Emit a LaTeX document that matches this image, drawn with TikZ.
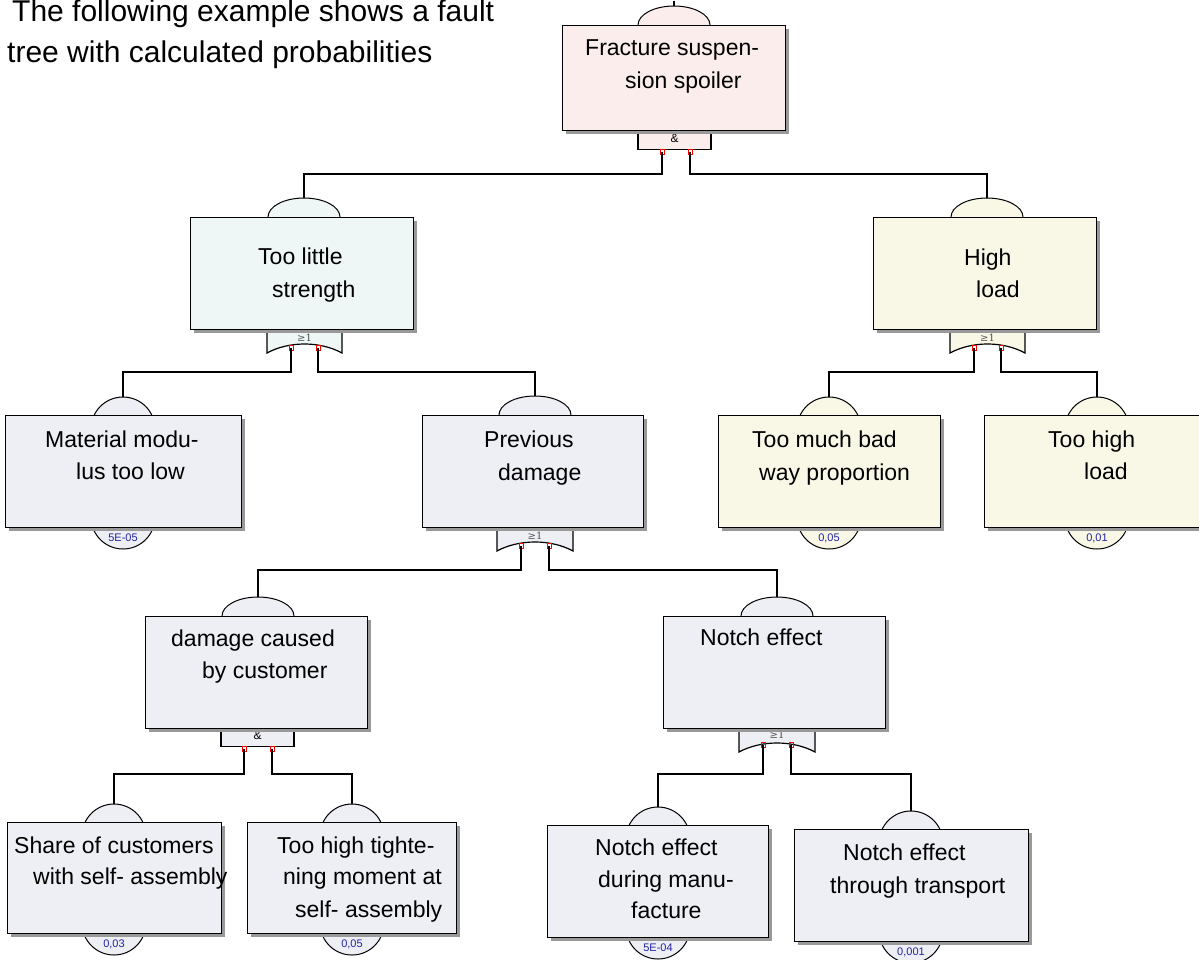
\documentclass[tikz,border=0pt]{standalone}
\usepackage{fontspec}
\setmainfont{Liberation Sans}
\newfontfamily\gatefont{DejaVu Serif}
\usetikzlibrary{shapes.geometric,shadows}
\definecolor{cpink}{HTML}{FCEDED}
\definecolor{ccyan}{HTML}{EEF6F6}
\definecolor{cyell}{HTML}{F9F8E7}
\definecolor{cgrey}{HTML}{EEEFF5}
\definecolor{probblue}{HTML}{2222A0}
\definecolor{gatelab}{HTML}{505050}
\newcommand\orgt[4]{\filldraw[gatesty, fill=#4] (#1,#3) -- (#1,#3+26) .. controls (#1+22,#3+14) and (#2-22,#3+14) .. (#2,#3+26) -- (#2,#3);}
\tikzset{
  box/.style={draw, line width=1.2pt, rectangle, inner sep=0pt, anchor=north west,
    general shadow={fill=black!40, shadow xshift=3pt, shadow yshift=-3pt}},
  dome/.style={draw, line width=1pt, ellipse, minimum width=72pt, minimum height=38pt, inner sep=0pt},
  ldome/.style={draw, line width=1pt, circle, minimum size=64pt, inner sep=0pt},
  txt/.style={font=\fontsize{23}{28}\selectfont, anchor=base west, inner sep=0pt},
  ttl/.style={font=\fontsize{30}{36}\selectfont, anchor=base west, inner sep=0pt},
  prob/.style={font=\fontsize{11}{13}\selectfont, text=probblue, inner sep=0pt},
  pinsq/.style={draw=red, line width=0.7pt, minimum width=4pt, minimum height=5pt, inner sep=0pt},
  wire/.style={line width=1.2pt},
  gatesty/.style={draw, line width=1.2pt},
  andg/.style={gatesty, rectangle, minimum width=73pt, minimum height=22pt, inner sep=0pt, anchor=south, font=\fontsize{12}{14}\selectfont},
  orlab/.style={font=\gatefont\fontsize{10}{12}\selectfont, text=gatelab, inner sep=0pt}
}
\begin{document}
\begin{tikzpicture}[x=1pt,y=-1pt]
\useasboundingbox (0,0) rectangle (1199,959);
\clip (0,0) rectangle (1199,959);

% title
\node[ttl] (ttl1) at (12,21) {The following example shows a fault};
\node[ttl] (ttl2) at (7,62) {tree with calculated probabilities};

% domes (intermediate events)
\node[dome, fill=cpink] (Fd) at (674,25) {};
\node[dome, fill=ccyan] (Sd) at (304,217) {};
\node[dome, fill=cyell] (Hd) at (987,217) {};
\node[dome, fill=cgrey] (Pd) at (535,415) {};
\node[dome, fill=cgrey] (Dd) at (258,616) {};
\node[dome, fill=cgrey] (Nd) at (777,616) {};
% basic event circles (top and bottom)
\node[ldome, fill=cgrey] (Md) at (123,429) {};
\node[ldome, fill=cgrey] (Mb) at (123,517) {};
\node[ldome, fill=cyell] (Wd) at (829,429) {};
\node[ldome, fill=cyell] (Wb) at (829,517) {};
\node[ldome, fill=cyell] (Td) at (1097,429) {};
\node[ldome, fill=cyell] (Tb) at (1097,517) {};
\node[ldome, fill=cgrey] (C1d) at (114,836) {};
\node[ldome, fill=cgrey] (C1b) at (114,923) {};
\node[ldome, fill=cgrey] (C2d) at (352,836) {};
\node[ldome, fill=cgrey] (C2b) at (352,923) {};
\node[ldome, fill=cgrey] (N1d) at (658,839) {};
\node[ldome, fill=cgrey] (N1b) at (658,927) {};
\node[ldome, fill=cgrey] (N2d) at (911,843) {};
\node[ldome, fill=cgrey] (N2b) at (911,931) {};

% gates
\node[andg, fill=cpink] (Fg) at (674.5,150) {\&};
\orgt{267}{342}{327}{ccyan}
\orgt{950}{1025}{327}{cyell}
\orgt{497}{573}{525}{cgrey}
\node[andg, fill=cgrey] (Dg) at (257.5,747) {\&};
\orgt{739}{815}{726}{cgrey}
\node[orlab] (Sgl) at (304.5,338) {≥1};
\node[orlab] (Hgl) at (987.5,338) {≥1};
\node[orlab] (Pgl) at (535,536) {≥1};
\node[orlab] (Ngl) at (777,735) {≥1};

% pins
\node[pinsq] (Fp1) at (662,152) {};
\node[pinsq] (Fp2) at (690,152) {};
\node[pinsq] (Sp1) at (291,348) {};
\node[pinsq] (Sp2) at (318,348) {};
\node[pinsq] (Hp1) at (974,348) {};
\node[pinsq] (Hp2) at (1001,348) {};
\node[pinsq] (Pp1) at (521,546) {};
\node[pinsq] (Pp2) at (549,546) {};
\node[pinsq] (Dp1) at (244,749) {};
\node[pinsq] (Dp2) at (272,749) {};
\node[pinsq] (Np1) at (763,745) {};
\node[pinsq] (Np2) at (791,745) {};

% bus levels
\coordinate (Fbus) at (0,174);
\coordinate (Sbus) at (0,372);
\coordinate (Pbus) at (0,570);
\coordinate (Dbus) at (0,774);
\coordinate (Fin) at (674,1);

% connectors
\draw[wire] (Fd.north) -- (Fin);
\draw[wire] (Fp1.center) -- (Fp1.center |- Fbus) -| (Sd.north);
\draw[wire] (Fp2.center) -- (Fp2.center |- Fbus) -| (Hd.north);
\draw[wire] (Sp1.center) -- (Sp1.center |- Sbus) -| (Md.north);
\draw[wire] (Sp2.center) -- (Sp2.center |- Sbus) -| (Pd.north);
\draw[wire] (Hp1.center) -- (Hp1.center |- Sbus) -| (Wd.north);
\draw[wire] (Hp2.center) -- (Hp2.center |- Sbus) -| (Td.north);
\draw[wire] (Pp1.center) -- (Pp1.center |- Pbus) -| (Dd.north);
\draw[wire] (Pp2.center) -- (Pp2.center |- Pbus) -| (Nd.north);
\draw[wire] (Dp1.center) -- (Dp1.center |- Dbus) -| (C1d.north);
\draw[wire] (Dp2.center) -- (Dp2.center |- Dbus) -| (C2d.north);
\draw[wire] (Np1.center) -- (Np1.center |- Dbus) -| (N1d.north);
\draw[wire] (Np2.center) -- (Np2.center |- Dbus) -| (N2d.north);

% boxes
\node[box, fill=cpink, minimum width=223pt, minimum height=105pt] (F) at (562,25) {};
\node[box, fill=ccyan, minimum width=223pt, minimum height=112pt] (S) at (190,217) {};
\node[box, fill=cyell, minimum width=223pt, minimum height=112pt] (H) at (873,217) {};
\node[box, fill=cgrey, minimum width=236pt, minimum height=112pt] (M) at (5,415) {};
\node[box, fill=cgrey, minimum width=221pt, minimum height=112pt] (P) at (422,415) {};
\node[box, fill=cyell, minimum width=222pt, minimum height=112pt] (W) at (718,415) {};
\node[box, fill=cyell, minimum width=226pt, minimum height=112pt] (T) at (984,415) {};
\node[box, fill=cgrey, minimum width=222pt, minimum height=112pt] (D) at (145,616) {};
\node[box, fill=cgrey, minimum width=222pt, minimum height=112pt] (N) at (663,616) {};
\node[box, fill=cgrey, minimum width=214pt, minimum height=111pt] (C1) at (7,822) {};
\node[box, fill=cgrey, minimum width=209pt, minimum height=111pt] (C2) at (247,822) {};
\node[box, fill=cgrey, minimum width=221pt, minimum height=112pt] (N1) at (547,825) {};
\node[box, fill=cgrey, minimum width=234pt, minimum height=112pt] (N2) at (794,829) {};

% texts
\node[txt] (Ft1) at (585,55) {Fracture suspen-};
\node[txt] (Ft2) at (625,88) {sion spoiler};
\node[txt] (St1) at (258,264) {Too little};
\node[txt] (St2) at (272,297) {strength};
\node[txt] (Ht1) at (964,265) {High};
\node[txt] (Ht2) at (976,297) {load};
\node[txt] (Mt1) at (45,447) {Material modu-};
\node[txt] (Mt2) at (76,479) {lus too low};
\node[txt] (Pt1) at (484,447) {Previous};
\node[txt] (Pt2) at (498,480) {damage};
\node[txt] (Wt1) at (752,447) {Too much bad};
\node[txt] (Wt2) at (759,480) {way proportion};
\node[txt] (Tt1) at (1048,447) {Too high};
\node[txt] (Tt2) at (1084,479) {load};
\node[txt] (Dt1) at (171,646) {damage caused};
\node[txt] (Dt2) at (202,678) {by customer};
\node[txt] (Nt1) at (700,645) {Notch effect};
\node[txt] (C1t1) at (14,853) {Share of customers};
\node[txt] (C1t2) at (33,884) {with self- assembly};
\node[txt] (C2t1) at (277,853) {Too high tighte-};
\node[txt] (C2t2) at (283,884) {ning moment at};
\node[txt] (C2t3) at (295,917) {self- assembly};
\node[txt] (N1t1) at (595,855) {Notch effect};
\node[txt] (N1t2) at (598,887) {during manu-};
\node[txt] (N1t3) at (631,918) {facture};
\node[txt] (N2t1) at (843,860) {Notch effect};
\node[txt] (N2t2) at (830,893) {through transport};

% probabilities
\node[prob] (Mpr) at (123,538) {5E-05};
\node[prob] (Wpr) at (829,538) {0,05};
\node[prob] (Tpr) at (1097,538) {0,01};
\node[prob] (C1pr) at (114,944) {0,03};
\node[prob] (C2pr) at (352,944) {0,05};
\node[prob] (N1pr) at (658,948) {5E-04};
\node[prob] (N2pr) at (911,952) {0,001};
\end{tikzpicture}
\end{document}
